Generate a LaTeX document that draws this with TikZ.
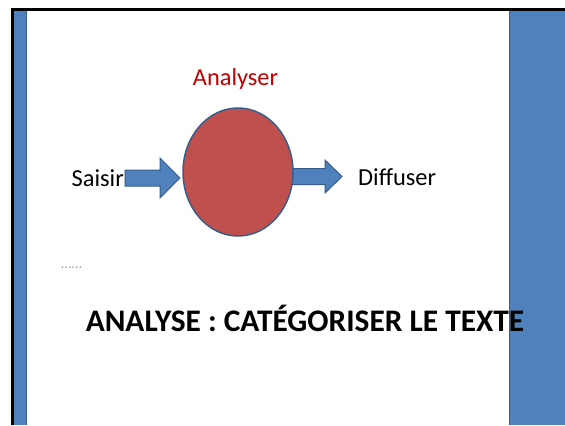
\documentclass[tikz,border=0pt]{standalone}
\usepackage{fontspec}
\setmainfont{Carlito}
\usetikzlibrary{shapes.geometric}
\definecolor{barblue}{HTML}{4F81BD}
\definecolor{edgeblue}{HTML}{385D8A}
\definecolor{ovalred}{HTML}{C0504D}
\definecolor{titlered}{HTML}{C00000}
\begin{document}
\begin{tikzpicture}[x=1bp,y=-1bp,
  bar/.style={fill=barblue,draw=none},
  arrowbox/.style={fill=barblue,draw=edgeblue,line width=1bp,line join=miter},
  lbl/.style={inner sep=0pt,font=\fontsize{24.5}{28}\selectfont}]
\useasboundingbox (0,0) rectangle (565,425);
\fill[white] (0,0) rectangle (565,425);
% frame
\fill[black] (11,8) rectangle (565,11);
\fill[black] (11,8) rectangle (14,425);
% blue bars
\fill[bar] (14,11) rectangle (26,425);
\draw[edgeblue,line width=1bp] (26,11) -- (26,425);
\fill[bar] (509,11) rectangle (565,425);
\draw[edgeblue,line width=1bp] (509,11) -- (509,425);
% arrows
\draw[arrowbox] (125,170) -- (160,170) -- (160,158) -- (180,178) -- (160,198) -- (160,186) -- (125,186) -- cycle;
\draw[arrowbox] (285,168.5) -- (325,168.5) -- (325,160) -- (342,176.5) -- (325,193) -- (325,184.5) -- (285,184.5) -- cycle;
% oval
\node[ellipse,draw=edgeblue,fill=ovalred,line width=1.5bp,minimum width=110bp,minimum height=128bp,inner sep=0pt] (oval) at (238,172) {};
% labels
\node[lbl,anchor=east] (saisir) at (124,178) {Saisir};
\node[lbl,anchor=west] (diffuser) at (358,177) {Diffuser};
\node[lbl,text=titlered] (analyser) at (235.5,79) {Analyser};
\node[inner sep=0pt,text=gray!70,font=\fontsize{15}{16}\selectfont,anchor=west] (dots) at (61,268) {……};
\node[inner sep=0pt,font=\bfseries\fontsize{31.5}{35}\selectfont] (title) at (305,318) {ANALYSE : CATÉGORISER LE TEXTE};
\end{tikzpicture}
\end{document}
